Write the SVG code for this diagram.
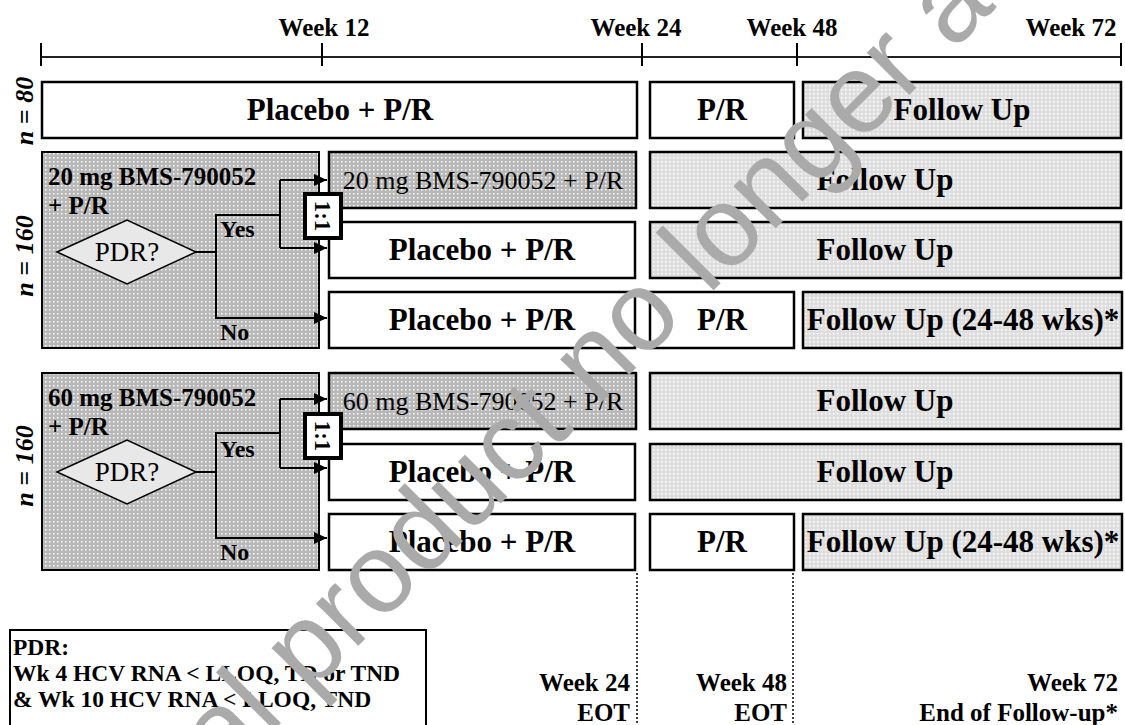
<svg xmlns="http://www.w3.org/2000/svg" width="1125" height="725" viewBox="0 0 1125 725">
<defs>
<pattern id="dk" width="4" height="4" patternUnits="userSpaceOnUse"><rect width="4" height="4" fill="#b8b8b8"/><rect x="1" y="1" width="1.5" height="1.5" fill="#ffffff"/></pattern>
<pattern id="lt" width="4" height="4" patternUnits="userSpaceOnUse"><rect width="4" height="4" fill="#dedede"/><rect x="1" y="1" width="1.5" height="1.5" fill="#ffffff"/></pattern>
<marker id="ah" markerWidth="13" markerHeight="13" viewBox="0 0 13 13" refX="13" refY="6.5" orient="auto" markerUnits="userSpaceOnUse"><path d="M0,0.5 L13,6.5 L0,12.5 Z" fill="#000"/></marker>
<style>
.box{fill:#fff;stroke:#000;stroke-width:2.5}
.dk{fill:url(#dk);stroke:#000;stroke-width:2.5}
.lt{fill:url(#lt);stroke:#000;stroke-width:2.5}
.t{font-family:"Liberation Serif","Times New Roman",serif;fill:#000}
.b31{font-size:31px;font-weight:bold;text-anchor:middle}
.r26{font-size:26px;text-anchor:middle}
.wk{font-size:25px;font-weight:bold}
.lbl{font-size:25px;font-weight:bold}
.yn{font-size:24px;font-weight:bold}
.n{font-size:26px;font-weight:bold;font-style:italic;text-anchor:middle}
.conn{fill:none;stroke:#000;stroke-width:2}
.tick{stroke:#000;stroke-width:2}
</style>
</defs>
<rect width="1125" height="725" fill="#fff"/>

<g id="timeline">
<line x1="41" y1="57" x2="1121" y2="57" stroke="#222" stroke-width="1.8"/>
<line class="tick" x1="41" y1="43" x2="41" y2="66"/>
<line class="tick" x1="322" y1="43" x2="322" y2="66"/>
<line class="tick" x1="642" y1="43" x2="642" y2="66"/>
<line class="tick" x1="797" y1="43" x2="797" y2="66"/>
<line class="tick" x1="1121" y1="43" x2="1121" y2="66"/>
<text class="t wk" x="324" y="36" text-anchor="middle">Week 12</text>
<text class="t wk" x="636" y="36" text-anchor="middle">Week 24</text>
<text class="t wk" x="792" y="36" text-anchor="middle">Week 48</text>
<text class="t wk" x="1071" y="36" text-anchor="middle">Week 72</text>
</g>

<g id="nlabels">
<text class="t n" transform="translate(33,111) rotate(-90)">n = 80</text>
<text class="t n" transform="translate(33,256) rotate(-90)">n = 160</text>
<text class="t n" transform="translate(33,466) rotate(-90)">n = 160</text>
</g>

<g id="row-placebo80">
<rect class="box" x="42" y="82" width="595" height="56"/>
<text class="t b31" x="340" y="120">Placebo + P/R</text>
</g>
<g id="row-placebo80-pr">
<rect class="box" x="650" y="82" width="144" height="56"/>
<text class="t b31" x="722" y="120">P/R</text>
</g>
<g id="row-placebo80-fu">
<rect class="lt" x="803" y="82" width="318" height="56"/>
<text class="t b31" x="962" y="120">Follow Up</text>
</g>

<g id="panel-20">
<rect fill="url(#dk)" stroke="#000" stroke-width="2" x="42" y="152" width="277" height="196"/>
<text class="t lbl" x="48" y="185">20 mg BMS-790052</text>
<text class="t lbl" x="48" y="214">+ P/R</text>
<text class="t yn" x="220" y="237">Yes</text>
<text class="t yn" x="220" y="340">No</text>
</g>
<g id="pdr-20">
<polygon points="57,252 127,220 196,252 127,284" fill="#e8e8e8" stroke="#000" stroke-width="1.5"/>
<text class="t" x="127" y="261" font-size="27" text-anchor="middle">PDR?</text>
</g>

<g id="panel-60">
<rect fill="url(#dk)" stroke="#000" stroke-width="2" x="42" y="373" width="277" height="197"/>
<text class="t lbl" x="48" y="406">60 mg BMS-790052</text>
<text class="t lbl" x="48" y="435">+ P/R</text>
<text class="t yn" x="220" y="457">Yes</text>
<text class="t yn" x="220" y="560">No</text>
</g>
<g id="pdr-60">
<polygon points="57,472 127,440 196,472 127,504" fill="#e8e8e8" stroke="#000" stroke-width="1.5"/>
<text class="t" x="127" y="481" font-size="27" text-anchor="middle">PDR?</text>
</g>

<g id="p1-r1"><rect class="dk" x="329" y="152" width="307" height="56"/><text class="t r26" x="483" y="189">20 mg BMS-790052 + P/R</text></g>
<g id="p1-r1-fu"><rect class="lt" x="650" y="152" width="471" height="56"/><text class="t b31" x="885" y="190">Follow Up</text></g>
<g id="p1-r2"><rect class="box" x="329" y="222" width="306" height="56"/><text class="t b31" x="482" y="260">Placebo + P/R</text></g>
<g id="p1-r2-fu"><rect class="lt" x="650" y="222" width="471" height="56"/><text class="t b31" x="885" y="260">Follow Up</text></g>
<g id="p1-r3"><rect class="box" x="329" y="292" width="306" height="56"/><text class="t b31" x="482" y="330">Placebo + P/R</text></g>
<g id="p1-r3-pr"><rect class="box" x="650" y="292" width="144" height="56"/><text class="t b31" x="722" y="330">P/R</text></g>
<g id="p1-r3-fu"><rect class="lt" x="803" y="292" width="319" height="56"/><text class="t b31" x="963" y="330">Follow Up (24-48 wks)*</text></g>

<g id="p2-r1"><rect class="dk" x="329" y="373" width="307" height="56"/><text class="t r26" x="483" y="410">60 mg BMS-790052 + P/R</text></g>
<g id="p2-r1-fu"><rect class="lt" x="650" y="373" width="471" height="56"/><text class="t b31" x="885" y="411">Follow Up</text></g>
<g id="p2-r2"><rect class="box" x="329" y="444" width="306" height="56"/><text class="t b31" x="482" y="482">Placebo + P/R</text></g>
<g id="p2-r2-fu"><rect class="lt" x="650" y="444" width="471" height="56"/><text class="t b31" x="885" y="482">Follow Up</text></g>
<g id="p2-r3"><rect class="box" x="329" y="514" width="306" height="56"/><text class="t b31" x="482" y="552">Placebo + P/R</text></g>
<g id="p2-r3-pr"><rect class="box" x="650" y="514" width="144" height="56"/><text class="t b31" x="722" y="552">P/R</text></g>
<g id="p2-r3-fu"><rect class="lt" x="803" y="514" width="319" height="56"/><text class="t b31" x="963" y="552">Follow Up (24-48 wks)*</text></g>

<g id="connectors">
<polyline class="conn" points="196,252 216,252 216,215 280,215"/>
<polyline class="conn" points="280,180 280,248"/>
<polyline class="conn" points="280,180 327,180" marker-end="url(#ah)"/>
<polyline class="conn" points="280,248 327,248" marker-end="url(#ah)"/>
<polyline class="conn" points="216,252 216,318 327,318" marker-end="url(#ah)"/>
<polyline class="conn" points="196,472 216,472 216,433 280,433"/>
<polyline class="conn" points="280,399 280,468"/>
<polyline class="conn" points="280,399 327,399" marker-end="url(#ah)"/>
<polyline class="conn" points="280,468 327,468" marker-end="url(#ah)"/>
<polyline class="conn" points="216,472 216,538 327,538" marker-end="url(#ah)"/>
<line x1="637" y1="573" x2="637" y2="725" stroke="#000" stroke-width="1.5" stroke-dasharray="2,2"/>
<line x1="793" y1="573" x2="793" y2="725" stroke="#000" stroke-width="1.5" stroke-dasharray="2,2"/>
</g>

<g id="rand-20">
<rect x="305" y="194" width="36" height="44" fill="#fff" stroke="#000" stroke-width="4"/>
<text class="t" transform="translate(315,216) rotate(90)" font-size="23" font-weight="bold" text-anchor="middle">1:1</text>
</g>
<g id="rand-60">
<rect x="305" y="414" width="36" height="44" fill="#fff" stroke="#000" stroke-width="4"/>
<text class="t" transform="translate(315,436) rotate(90)" font-size="23" font-weight="bold" text-anchor="middle">1:1</text>
</g>

<g id="pdr-legend">
<rect x="10" y="630" width="416" height="110" fill="#fff" stroke="#000" stroke-width="2"/>
<text class="t" x="13" y="655" font-size="23.5" font-weight="bold">PDR:</text>
<text class="t" x="13" y="681" font-size="23.5" font-weight="bold">Wk 4 HCV RNA &lt; LLOQ, TD or TND</text>
<text class="t" x="13" y="707" font-size="23.5" font-weight="bold">&amp; Wk 10 HCV RNA &lt; LLOQ, TND</text>
</g>

<g id="bottom-labels">
<text class="t wk" x="630" y="691" text-anchor="end">Week 24</text>
<text class="t wk" x="630" y="721" text-anchor="end">EOT</text>
<text class="t wk" x="787" y="691" text-anchor="end">Week 48</text>
<text class="t wk" x="787" y="721" text-anchor="end">EOT</text>
<text class="t wk" x="1118" y="691" text-anchor="end">Week 72</text>
<text class="t wk" x="1118" y="721" text-anchor="end">End of Follow-up*</text>
</g>

<g id="watermark">
<text transform="translate(224,780) rotate(-45)" font-family="'Liberation Sans',Arial,sans-serif" font-size="113" fill="#aaaaaa">al product no longer a</text>
</g>
</svg>
